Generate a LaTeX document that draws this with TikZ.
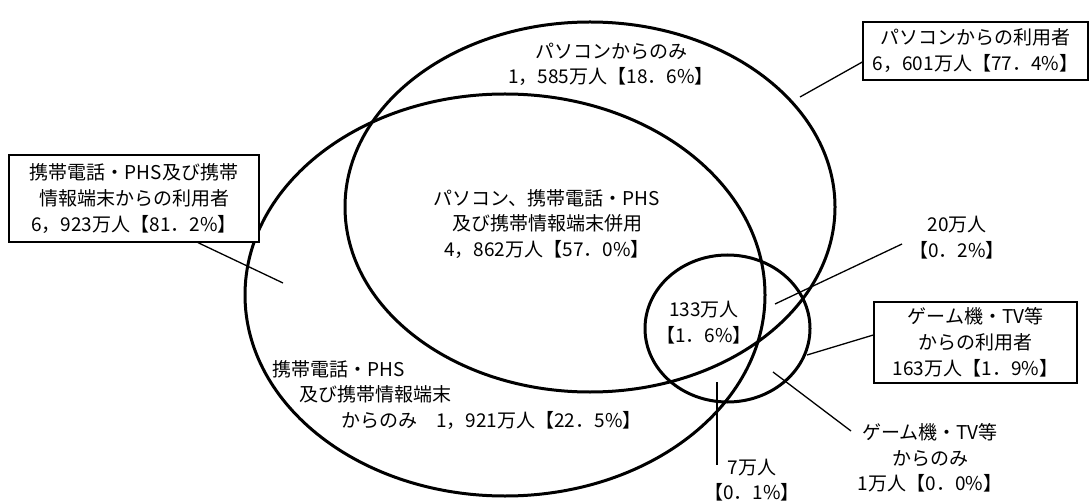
\documentclass[tikz,border=0pt]{standalone}
\usepackage{fontspec}
\setmainfont{Noto Sans CJK JP}
\usetikzlibrary{shapes.geometric}
\begin{document}
\begin{tikzpicture}[x=1pt,y=-1pt,
  venn/.style={ellipse,draw,line width=3pt,inner sep=0pt},
  lbl/.style={align=center,inner sep=0pt,font=\fontsize{19}{25.5}\selectfont},
  box/.style={draw,line width=1.3pt,fill=white,align=center,inner sep=0pt,font=\fontsize{19}{26}\selectfont},
  conn/.style={line width=1.3pt}]
\useasboundingbox (0,0) rectangle (1091,502);
% sets
\node[venn,minimum width=490pt,minimum height=370pt] (pc) at (590,207) {};
\node[venn,minimum width=520pt,minimum height=402pt] (mob) at (505,295) {};
\node[venn,minimum width=165pt,minimum height=147pt] (game) at (727.5,328.5) {};
% region labels
\node[lbl] (pconly) at (611,64.5) {パソコンからのみ\\1，585万人【18．6\%】};
\node[lbl] (both) at (547,224) {パソコン、携帯電話・PHS\\及び携帯情報端末併用\\4，862万人【57．0\%】};
\node[lbl,anchor=west,align=left] (mobonly) at (272,395) {携帯電話・PHS\\\hspace*{27pt}及び携帯情報端末\\\hspace*{69pt}からのみ　1，921万人【22．5\%】};
\node[lbl] (all3) at (704,322.5) {133万人\\【1．6\%】};
\node[lbl] (pcgame) at (957,237.5) {20万人\\【0．2\%】};
\node[lbl] (mobgame) at (752,480) {7万人\\【0．1\%】};
\node[lbl] (gameonly) at (930,458) {ゲーム機・TV等\\からのみ\\1万人【0．0\%】};
% boxes
\node[box,minimum width=225pt,minimum height=58pt] (pcbox) at (975.5,51) {パソコンからの利用者\\6，601万人【77．4\%】};
\node[box,minimum width=250pt,minimum height=87pt] (mobbox) at (134,198.5) {携帯電話・PHS及び携帯\\情報端末からの利用者\\6，923万人【81．2\%】};
\node[box,minimum width=203pt,minimum height=81pt] (gamebox) at (975.5,342.5) {ゲーム機・TV等\\からの利用者\\163万人【1．9\%】};
% connector ends
\coordinate (pcE) at (800,97);
\coordinate (mobE) at (283,283);
\coordinate (gameE) at (807,355);
\coordinate (pcgameE) at (775,304);
\coordinate (pcgameT) at (902,244);
\coordinate (mobgameE) at (717,382);
\coordinate (mobgameT) at (717,465);
\coordinate (gameonlyE) at (773,372);
\coordinate (gameonlyT) at (851,431);
% connectors
\draw[conn] (pcE) -- ([yshift=-11pt]pcbox.west);
\draw[conn] (mobE) -- ([xshift=64pt]mobbox.south);
\draw[conn] (gameE) -- ([yshift=7.5pt]gamebox.west);
\draw[conn] (pcgameE) -- (pcgameT);
\draw[conn] (mobgameE) -- (mobgameT);
\draw[conn] (gameonlyE) -- (gameonlyT);
\end{tikzpicture}
\end{document}
